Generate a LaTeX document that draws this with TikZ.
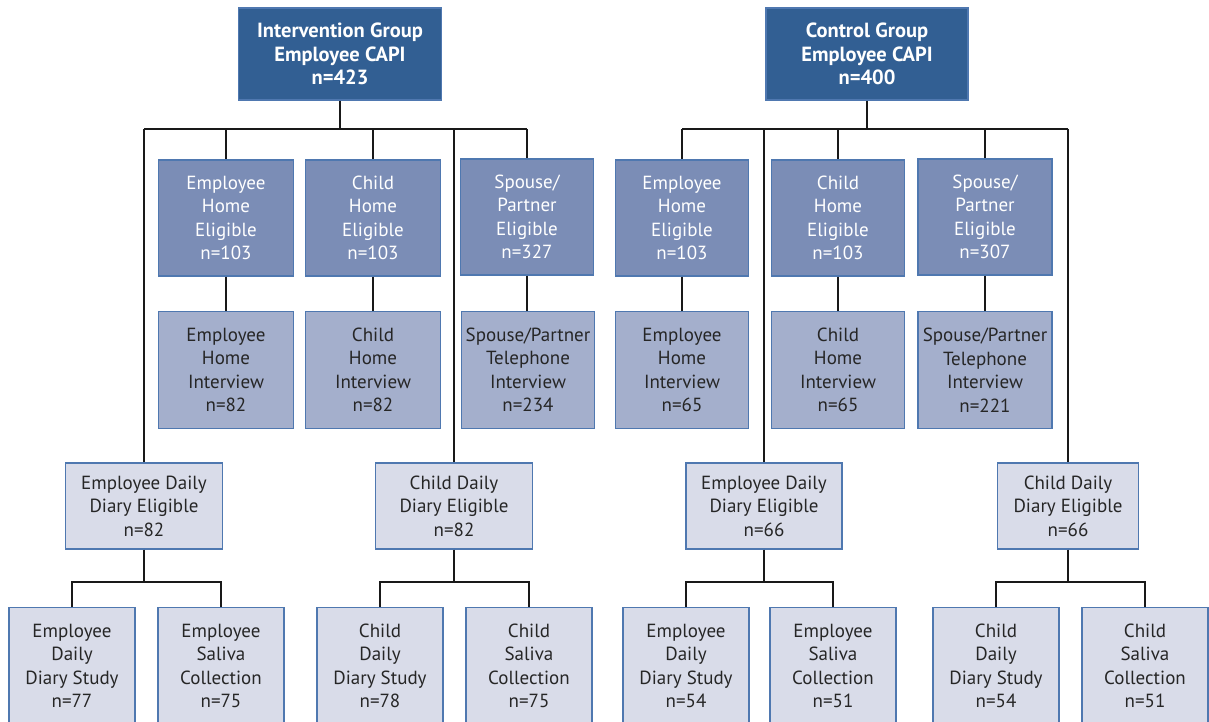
\documentclass[tikz,border=0pt]{standalone}
\usepackage{fontspec}
\setmainfont{PT Sans}
\begin{document}
\begin{tikzpicture}[x=1pt,y=-1pt,
  base/.style={draw=bordc, line width=1.4pt, align=center, inner sep=0pt,
    font=\fontsize{19}{23.5}\selectfont, anchor=center},
  topbox/.style={base, fill=topc, text=white, font=\fontsize{20.5}{23.5}\selectfont\bfseries, minimum height=92pt},
  elig/.style={base, fill=eligc, text=white, minimum width=135pt, minimum height=116pt},
  interv/.style={base, fill=intc, text=black!85, minimum width=135pt, minimum height=117pt},
  diary/.style={base, fill=diaryc, text=black!85, minimum height=86pt},
  leaf/.style={base, fill=diaryc, text=black!85, minimum width=126pt, minimum height=117pt},
  conn/.style={line width=1.6pt, black!90}
]
\definecolor{topc}{HTML}{325F93}
\definecolor{eligc}{HTML}{7B8DB6}
\definecolor{intc}{HTML}{A4AFCC}
\definecolor{diaryc}{HTML}{D9DCE9}
\definecolor{bordc}{HTML}{4F78B0}
\useasboundingbox (0,0) rectangle (1209,722);
\clip (0,0) rectangle (1209,722);
\fill[white] (0,0) rectangle (1209,722);

% bus coordinates
\coordinate (busT) at (0,129);
\coordinate (busB) at (0,582);

% top boxes
\node[topbox, minimum width=203pt] (ig) at (340,54) {Intervention Group\\Employee CAPI\\n=423};
\node[topbox, minimum width=202pt] (cg) at (867,54) {Control Group\\Employee CAPI\\n=400};

% row 2 (eligible)
\node[elig] (ehe1) at (226,218) {Employee\\Home\\Eligible\\n=103};
\node[elig] (che1) at (373,218) {Child\\Home\\Eligible\\n=103};
\node[elig, minimum width=133pt] (spe1) at (527,217) {Spouse/\\Partner\\Eligible\\n=327};
\node[elig, minimum width=133pt] (ehe2) at (682,218) {Employee\\Home\\Eligible\\n=103};
\node[elig, minimum width=133pt] (che2) at (838,218) {Child\\Home\\Eligible\\n=103};
\node[elig, minimum width=134pt] (spe2) at (985,217) {Spouse/\\Partner\\Eligible\\n=307};

% row 3 (interviews)
\node[interv] (ehi1) at (226,370) {Employee\\Home\\Interview\\n=82};
\node[interv] (chi1) at (373,370) {Child\\Home\\Interview\\n=82};
\node[interv, minimum width=133pt] (spi1) at (528,370) {Spouse/Partner\\Telephone\\Interview\\n=234};
\node[interv, minimum width=133pt] (ehi2) at (682,370) {Employee\\Home\\Interview\\n=65};
\node[interv, minimum width=133pt] (chi2) at (838,370) {Child\\Home\\Interview\\n=65};
\node[interv, minimum width=134pt] (spi2) at (985,370) {Spouse/Partner\\Telephone\\Interview\\n=221};

% diary eligible
\node[diary, minimum width=157pt] (ede1) at (144,506) {Employee Daily\\Diary Eligible\\n=82};
\node[diary, minimum width=157pt] (cde1) at (454,506) {Child Daily\\Diary Eligible\\n=82};
\node[diary, minimum width=156pt] (ede2) at (764,506) {Employee Daily\\Diary Eligible\\n=66};
\node[diary, minimum width=141pt] (cde2) at (1068,506) {Child Daily\\Diary Eligible\\n=66};

% leaves
\node[leaf] (eds1) at (72,666) {Employee\\Daily\\Diary Study\\n=77};
\node[leaf] (esc1) at (221,666) {Employee\\Saliva\\Collection\\n=75};
\node[leaf] (cds1) at (380,666) {Child\\Daily\\Diary Study\\n=78};
\node[leaf] (csc1) at (529,666) {Child\\Saliva\\Collection\\n=75};
\node[leaf] (eds2) at (686,666) {Employee\\Daily\\Diary Study\\n=54};
\node[leaf] (esc2) at (833,666) {Employee\\Saliva\\Collection\\n=51};
\node[leaf] (cds2) at (996,666) {Child\\Daily\\Diary Study\\n=54};
\node[leaf] (csc2) at (1145,666) {Child\\Saliva\\Collection\\n=51};

% connectors: intervention group
\draw[conn] (ig.south) -- (ig.south |- busT);
\draw[conn] (ede1.north |- busT) -- (spe1.north |- busT);
\draw[conn] (ede1.north |- busT) -- (ede1.north);
\draw[conn] (ehe1.north |- busT) -- (ehe1.north);
\draw[conn] (che1.north |- busT) -- (che1.north);
\draw[conn] (cde1.north |- busT) -- (cde1.north);
\draw[conn] (spe1.north |- busT) -- (spe1.north);
\draw[conn] (ehe1.south) -- (ehi1.north);
\draw[conn] (che1.south) -- (chi1.north);
\draw[conn] (spe1.south) -- (spe1.south |- spi1.north);

% connectors: control group
\draw[conn] (cg.south) -- (cg.south |- busT);
\draw[conn] (ehe2.north |- busT) -- (cde2.north |- busT);
\draw[conn] (ehe2.north |- busT) -- (ehe2.north);
\draw[conn] (ede2.north |- busT) -- (ede2.north);
\draw[conn] (che2.north |- busT) -- (che2.north);
\draw[conn] (spe2.north |- busT) -- (spe2.north);
\draw[conn] (cde2.north |- busT) -- (cde2.north);
\draw[conn] (ehe2.south) -- (ehi2.north);
\draw[conn] (che2.south) -- (chi2.north);
\draw[conn] (spe2.south) -- (spi2.north);

% diary sub-trees
\foreach \p/\a/\b in {ede1/eds1/esc1, cde1/cds1/csc1, ede2/eds2/esc2, cde2/cds2/csc2}{
  \draw[conn] (\p.south) -- (\p.south |- busB);
  \draw[conn] (\a.north) -- (\a.north |- busB) -- (\b.north |- busB) -- (\b.north);
}
\end{tikzpicture}
\end{document}
